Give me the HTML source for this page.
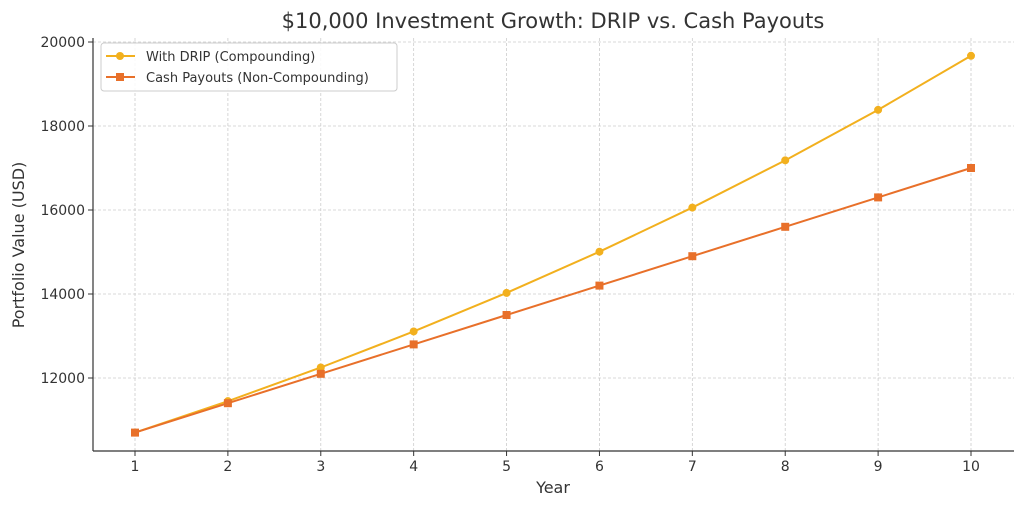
<!DOCTYPE html>
<html><head><meta charset="utf-8"><style>
body{margin:0;background:#fff;width:1024px;height:507px;overflow:hidden}
text{font-family:"DejaVu Sans","Liberation Sans",sans-serif;fill:#333}
</style></head><body>
<svg id="chart" width="1024" height="507" xmlns="http://www.w3.org/2000/svg">
<text x="553" y="28" text-anchor="middle" font-size="21">$10,000 Investment Growth: DRIP vs. Cash Payouts</text>
<g id="grid"></g><g id="axes"></g><g id="series"></g>
<text x="553" y="493" text-anchor="middle" font-size="16">Year</text>
<text transform="translate(24,245) rotate(-90)" text-anchor="middle" font-size="16">Portfolio Value (USD)</text>
<g>
<rect x="101" y="43" width="296" height="48" rx="3" fill="#fff" fill-opacity="0.85" stroke="#ccc"/>
<line x1="106" y1="56" x2="135" y2="56" stroke="#f2b01e" stroke-width="2"/><circle cx="120" cy="56" r="4" fill="#f2b01e"/>
<text x="146" y="61" font-size="13">With DRIP (Compounding)</text>
<line x1="106" y1="77" x2="135" y2="77" stroke="#e8702a" stroke-width="2"/><rect x="116" y="73" width="8" height="8" fill="#e8702a"/>
<text x="146" y="82" font-size="13">Cash Payouts (Non-Compounding)</text>
</g>
</svg>
<script>
const years=[1,2,3,4,5,6,7,8,9,10];
const dripValues=[10700,11449,12250,13108,14026,15007,16058,17182,18385,19672];
const cashValues=[10700,11400,12100,12800,13500,14200,14900,15600,16300,17000];
const yTicks=[12000,14000,16000,18000,20000];
const NS="http://www.w3.org/2000/svg";
const xS=v=>135+(v-1)*(971-135)/9;
const yS=v=>378-(v-12000)*(378-42)/8000;
function mk(tag,attrs,parent){const e=document.createElementNS(NS,tag);for(const k in attrs)e.setAttribute(k,attrs[k]);parent.appendChild(e);return e;}
const grid=document.getElementById('grid'),axes=document.getElementById('axes'),ser=document.getElementById('series');
years.forEach(y=>{
 const g=mk('line',{x1:xS(y),x2:xS(y),y1:38,y2:451,stroke:'#ccc','stroke-dasharray':'3,2','stroke-width':0.8},grid);
 
 
 mk('line',{x1:xS(y),x2:xS(y),y1:451,y2:456,stroke:'#333'},axes);
 const t=mk('text',{x:xS(y),y:471,'text-anchor':'middle','font-size':14},axes);t.textContent=y;
 
 
});
yTicks.forEach(v=>{
 const g=mk('line',{x1:93,x2:1014,y1:yS(v),y2:yS(v),stroke:'#ccc','stroke-dasharray':'3,2','stroke-width':0.8},grid);
 
 
 mk('line',{x1:88,x2:93,y1:yS(v),y2:yS(v),stroke:'#333'},axes);
 const t=mk('text',{x:85,y:yS(v)+5,'text-anchor':'end','font-size':14},axes);t.textContent=v;
 
 
});
mk('line',{x1:93,x2:93,y1:38,y2:451,stroke:'#333','stroke-width':1.2},axes);
mk('line',{x1:93,x2:1014,y1:451,y2:451,stroke:'#333','stroke-width':1.2},axes);
function draw(vals,color,square,name){
 const p=mk('polyline',{points:vals.map((v,i)=>xS(years[i])+','+yS(v)).join(' '),fill:'none',stroke:color,'stroke-width':2},ser);
 
 
 vals.forEach((v,i)=>{
  let m;
  if(square)m=mk('rect',{x:xS(years[i])-4,y:yS(v)-4,width:8,height:8,fill:color},ser);
  else m=mk('circle',{cx:xS(years[i]),cy:yS(v),r:4,fill:color},ser);
  
  
 });
}
draw(dripValues,'#f2b01e',false,'drip');
draw(cashValues,'#e8702a',true,'cash');
</script>
</body></html>
